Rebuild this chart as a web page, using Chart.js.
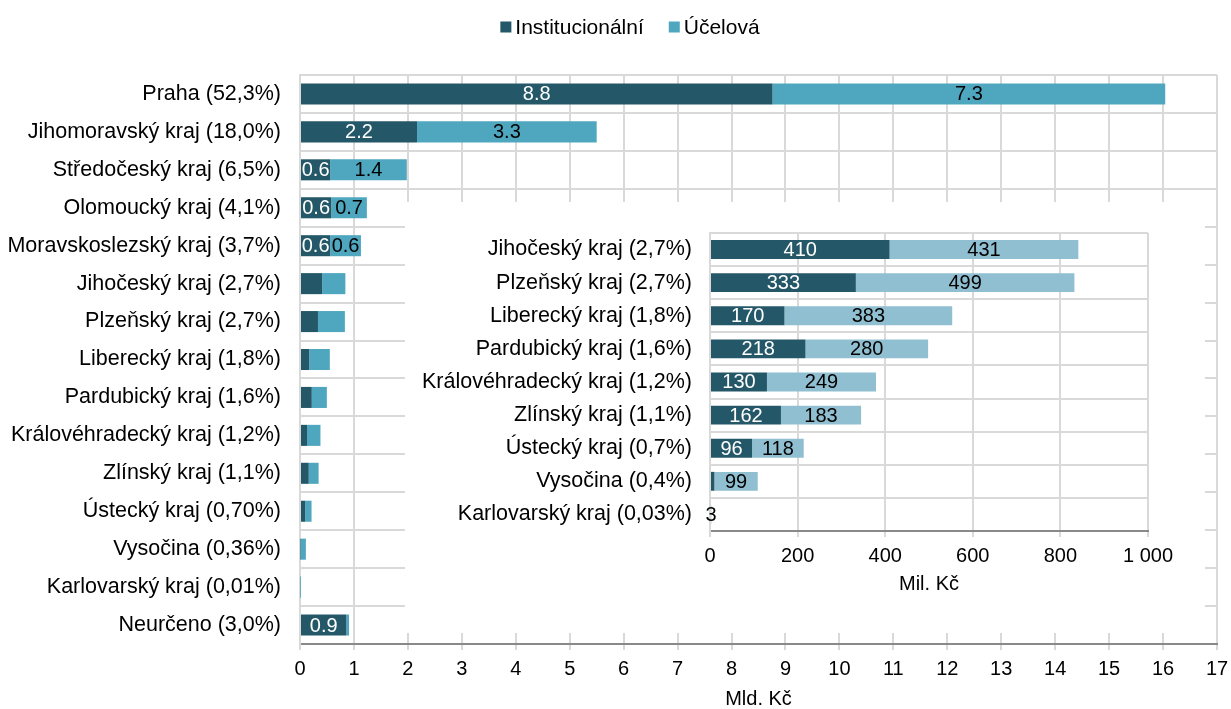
<!DOCTYPE html>
<html lang="cs">
<head>
  <meta charset="UTF-8" />
  <title>Podpora VaV podle krajů</title>
  <script src="https://cdn.jsdelivr.net/npm/chart.js"></script>
  <style>
    body { margin: 0; background: #fff; }
    #wrap { position: relative; width: 1231px; height: 709px; }
    #mainChart { position: absolute; left: 0; top: 0; }
    #insetChart { position: absolute; left: 405px; top: 202px; background: #fff; }
  </style>
</head>
<body>
  <div id="wrap">
    <canvas id="mainChart" width="1231" height="709"></canvas>
    <canvas id="insetChart" width="800" height="431"></canvas>
  </div>

  <script>
    // main chart (Mld. Kč)
    const mainLabels = [
      'Praha (52,3%)', 'Jihomoravský kraj (18,0%)', 'Středočeský kraj (6,5%)',
      'Olomoucký kraj (4,1%)', 'Moravskoslezský kraj (3,7%)', 'Jihočeský kraj (2,7%)',
      'Plzeňský kraj (2,7%)', 'Liberecký kraj (1,8%)', 'Pardubický kraj (1,6%)',
      'Královéhradecký kraj (1,2%)', 'Zlínský kraj (1,1%)', 'Ústecký kraj (0,70%)',
      'Vysočina (0,36%)', 'Karlovarský kraj (0,01%)', 'Neurčeno (3,0%)'
    ];
    const mainInst = [8.76, 2.17, 0.56, 0.58, 0.56, 0.41, 0.333, 0.17, 0.218, 0.13, 0.162, 0.096, 0.01, 0, 0.86];
    const mainUcel = [7.28, 3.33, 1.42, 0.66, 0.57, 0.431, 0.499, 0.383, 0.28, 0.249, 0.183, 0.118, 0.099, 0.003, 0.05];

    // inset (Mil. Kč)
    const insetLabels = [
      'Jihočeský kraj (2,7%)', 'Plzeňský kraj (2,7%)', 'Liberecký kraj (1,8%)',
      'Pardubický kraj (1,6%)', 'Královéhradecký kraj (1,2%)', 'Zlínský kraj (1,1%)',
      'Ústecký kraj (0,7%)', 'Vysočina (0,4%)', 'Karlovarský kraj (0,03%)'
    ];
    const insetInst = [410, 333, 170, 218, 130, 162, 96, 10, 0];
    const insetUcel = [431, 499, 383, 280, 249, 183, 118, 99, 3];

    const seriesNames = ['Institucionální', 'Účelová'];

    const DARK = '#245868';
    const LIGHT = '#4ea7bf';
    const LIGHT_INSET = '#8fbfd0';
    const GRID = '#d9d9d9';
    const AXIS = '#898989';
    const FONT = '"Liberation Sans", Arial, Helvetica, sans-serif';

    Chart.defaults.font.family = FONT;
    Chart.defaults.font.size = 20;
    Chart.defaults.color = '#000';

    // value labels in the middle of each segment
    const segLabels = {
      id: 'segLabels',
      afterDatasetsDraw(chart, args, opts) {
        const ctx = chart.ctx;
        const sets = chart.data.datasets;
        ctx.save();
        ctx.font = '20px ' + FONT;
        ctx.textAlign = 'center';
        ctx.textBaseline = 'middle';
        sets.forEach((ds, di) => {
          chart.getDatasetMeta(di).data.forEach((bar, i) => {
            const v = ds.data[i];
            const other = sets[1 - di].data[i];
            const lone = opts.lone && v > 0 && other === 0;
            if (!(v >= opts.min || lone)) return;
            ctx.fillStyle = ds.labelColor;
            ctx.fillText(opts.format(v), (bar.x + bar.base) / 2, bar.y + 1);
          });
        });
        ctx.restore();
      }
    };

    // legend on top
    const topLegend = {
      id: 'topLegend',
      afterDraw(chart) {
        const ctx = chart.ctx;
        const sets = chart.data.datasets;
        ctx.save();
        ctx.font = '21px ' + FONT;
        ctx.textBaseline = 'middle';
        const widths = sets.map(ds => 15 + ctx.measureText(ds.label).width);
        const total = widths.reduce((a, b) => a + b, 0) + 25;
        let x = 630 - total / 2;
        const y = 27;
        sets.forEach((ds, i) => {
          ctx.fillStyle = ds.backgroundColor;
          ctx.fillRect(x, y - 5.5, 11, 11);
          ctx.fillStyle = '#000';
          ctx.fillText(ds.label, x + 15, y + 1);
          x += widths[i] + 25;
        });
        ctx.restore();
      }
    };

    function yGrid(n) {
      return {
        color: c => (c.index === n ? 'rgba(0,0,0,0)' : GRID),
        lineWidth: 2,
        drawTicks: false
      };
    }

    function fitX(h) {
      return s => {
        s.height = h;
        s.paddingLeft = 0;
        s.paddingRight = 0;
      };
    }

    new Chart(document.getElementById('mainChart'), {
      type: 'bar',
      data: {
        labels: mainLabels,
        datasets: [
          { label: seriesNames[0], data: mainInst, backgroundColor: DARK, labelColor: '#fff',
            barPercentage: 0.555, categoryPercentage: 1 },
          { label: seriesNames[1], data: mainUcel, backgroundColor: LIGHT, labelColor: '#000',
            barPercentage: 0.555, categoryPercentage: 1 }
        ]
      },
      options: {
        indexAxis: 'y',
        responsive: false,
        animation: false,
        layout: { padding: { top: 75, right: 14, left: 0, bottom: 0 } },
        plugins: {
          legend: { display: false },
          tooltip: { enabled: false },
          segLabels: { min: 0.5, lone: false, format: v => v.toFixed(1) }
        },
        scales: {
          x: {
            stacked: true,
            min: 0,
            max: 17,
            ticks: { stepSize: 1, padding: 7, font: { size: 20 } },
            grid: { color: GRID, lineWidth: 2, tickLength: 6, tickColor: GRID },
            border: { color: AXIS, width: 2 },
            title: { display: true, text: 'Mld. Kč', font: { size: 20 }, padding: { top: 0, bottom: -2 } },
            afterFit: fitX(65)
          },
          y: {
            stacked: true,
            ticks: { padding: 19, font: { size: 21.5 } },
            grid: yGrid(mainLabels.length),
            border: { color: GRID, width: 2 },
            afterFit: s => { s.width = 300; }
          }
        }
      },
      plugins: [segLabels, topLegend]
    });

    new Chart(document.getElementById('insetChart'), {
      type: 'bar',
      data: {
        labels: insetLabels,
        datasets: [
          { label: seriesNames[0], data: insetInst, backgroundColor: DARK, labelColor: '#fff',
            barPercentage: 0.57, categoryPercentage: 1 },
          { label: seriesNames[1], data: insetUcel, backgroundColor: LIGHT_INSET, labelColor: '#000',
            barPercentage: 0.57, categoryPercentage: 1 }
        ]
      },
      options: {
        indexAxis: 'y',
        responsive: false,
        animation: false,
        layout: { padding: { top: 29, right: 57, left: 0, bottom: 0 } },
        plugins: {
          legend: { display: false },
          tooltip: { enabled: false },
          segLabels: { min: 50, lone: true, format: v => String(Math.round(v)) }
        },
        scales: {
          x: {
            stacked: true,
            min: 0,
            max: 1000,
            ticks: {
              stepSize: 200,
              padding: 7,
              font: { size: 20 },
              callback: v => String(v).replace(/\B(?=(\d{3})+(?!\d))/g, ' ')
            },
            grid: { color: GRID, lineWidth: 2, tickLength: 6, tickColor: GRID },
            border: { color: AXIS, width: 2 },
            title: { display: true, text: 'Mil. Kč', font: { size: 20 }, padding: { top: 0, bottom: 37 } },
            afterFit: fitX(102)
          },
          y: {
            stacked: true,
            ticks: { padding: 18, font: { size: 21.5 } },
            grid: yGrid(insetLabels.length),
            border: { color: GRID, width: 2 },
            afterFit: s => { s.width = 305; }
          }
        }
      },
      plugins: [segLabels]
    });
  </script>
</body>
</html>
